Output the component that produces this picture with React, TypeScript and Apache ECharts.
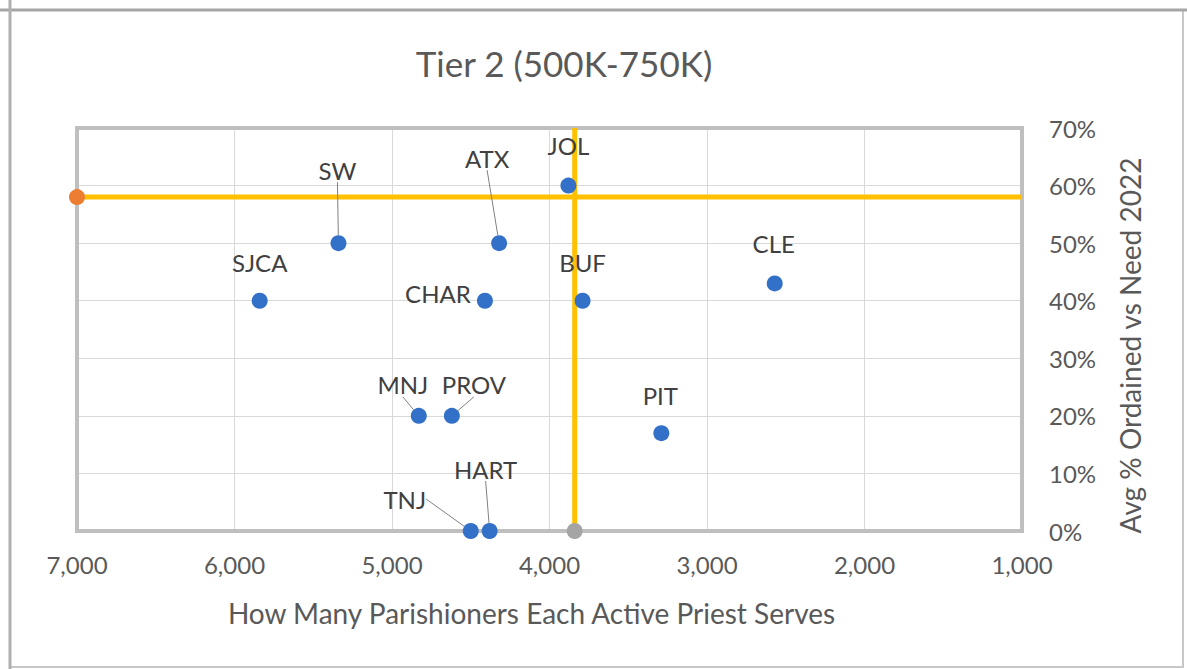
import React, { useEffect, useRef } from "react";
import * as echarts from "echarts";

const names = ["SJCA", "SW", "ATX", "JOL", "CHAR", "BUF", "CLE", "MNJ", "PROV", "PIT", "TNJ", "HART"];
const parishionersPerPriest = [5840, 5340, 4320, 3880, 4410, 3790, 2570, 4830, 4620, 3290, 4500, 4380];
const pctOrdained = [40, 50, 50, 60, 40, 40, 43, 20, 20, 17, 0, 0];
const avgParishioners = 3840;
const avgOrdained = 58;
const xMin = 1000;
const xMax = 7000;
const yMin = 0;
const yMax = 70;

// label placement (styling): offset from point centre to label centre, and leader-line flag
const labelOffsets: Record<string, [number, number, boolean]> = {
  SJCA: [0, -38, false],
  SW: [-1, -73, true],
  ATX: [-12, -85, true],
  JOL: [0, -40, false],
  CHAR: [-47, -7, false],
  BUF: [0, -38, false],
  CLE: [-1, -40, false],
  MNJ: [-16, -31, true],
  PROV: [22, -31, true],
  PIT: [-1, -38, false],
  TNJ: [-66, -32, true],
  HART: [-4, -62, true],
};

const FONT = "Lato, 'Noto Sans', sans-serif";

export default function App() {
  const ref = useRef<HTMLDivElement>(null);
  useEffect(() => {
    if (!ref.current) return;
    const chart = echarts.init(ref.current, null, { renderer: "svg" });
    const points = names.map((n, i) => ({
      name: n,
      value: [parishionersPerPriest[i], pctOrdained[i]],
      labelLine: { show: labelOffsets[n][2] },
    }));
    chart.setOption({
      animation: false,
      backgroundColor: "#ffffff",
      title: {
        text: "Tier 2 (500K-750K)",
        left: 559,
        top: 40,
        textAlign: "center",
        textStyle: { fontFamily: FONT, fontSize: 35, fontWeight: "normal", color: "#595959" },
      },
      graphic: [
        {
          type: "rect",
          shape: { x: 10, y: 10, width: 1173, height: 657 },
          style: { fill: "none", stroke: "#c8c8c8", lineWidth: 2 },
          silent: true,
        },
        {
          type: "line",
          shape: { x1: 0, y1: 10, x2: 1187, y2: 10 },
          style: { stroke: "#a6a6a6", lineWidth: 3 },
          silent: true,
        },
        {
          type: "line",
          shape: { x1: 10, y1: 0, x2: 10, y2: 669 },
          style: { stroke: "#b0b0b0", lineWidth: 3 },
          silent: true,
        },
      ],
      grid: {
        left: 77,
        right: 165,
        top: 128,
        bottom: 138,
        show: true,
        borderColor: "#bfbfbf",
        borderWidth: 4,
        z: 3,
      },
      xAxis: {
        type: "value",
        inverse: true,
        min: xMin,
        max: xMax,
        interval: 1000,
        name: "How Many Parishioners Each Active Priest Serves",
        nameLocation: "middle",
        nameGap: 68,
        nameTextStyle: { fontFamily: FONT, fontSize: 28, color: "#595959", padding: [0, 36, 0, 0] },
        axisLine: { show: false },
        axisTick: { show: false },
        axisLabel: {
          margin: 21,
          fontFamily: FONT,
          fontSize: 24,
          color: "#595959",
          formatter: (v: number) => v.toLocaleString("en-US"),
        },
        splitLine: { show: true, lineStyle: { color: "#d9d9d9", width: 1 } },
      },
      yAxis: {
        type: "value",
        position: "right",
        min: yMin,
        max: yMax,
        interval: 10,
        name: "Avg % Ordained vs Need 2022",
        nameLocation: "middle",
        nameRotate: 90,
        nameGap: 94,
        nameTextStyle: { fontFamily: FONT, fontSize: 28, color: "#595959", padding: [0, 32, 0, 0] },
        axisLine: { show: false },
        axisTick: { show: false },
        axisLabel: {
          margin: 27,
          fontFamily: FONT,
          fontSize: 24,
          color: "#595959",
          formatter: "{value}%",
        },
        splitLine: { show: true, lineStyle: { color: "#d9d9d9", width: 1 } },
      },
      series: [
        {
          type: "line",
          data: [
            [xMax, avgOrdained],
            [xMin, avgOrdained],
          ],
          symbol: "none",
          lineStyle: { color: "#FFC000", width: 5 },
          z: 4,
          silent: true,
        },
        {
          type: "line",
          data: [
            [avgParishioners, yMin],
            [avgParishioners, yMax],
          ],
          symbol: "none",
          lineStyle: { color: "#FFC000", width: 5 },
          z: 4,
          silent: true,
        },
        {
          type: "scatter",
          data: [[xMax, avgOrdained]],
          symbolSize: 16,
          itemStyle: { color: "#ED7D31", opacity: 1 },
          z: 6,
        },
        {
          type: "scatter",
          data: [[avgParishioners, yMin]],
          symbolSize: 16,
          itemStyle: { color: "#A5A5A5", opacity: 1 },
          z: 6,
        },
        {
          type: "scatter",
          data: points,
          symbolSize: 16,
          itemStyle: { color: "#3370C8", opacity: 1 },
          z: 6,
          label: {
            show: true,
            position: "inside",
            formatter: "{b}",
            fontFamily: FONT,
            fontSize: 24,
            color: "#404040",
          },
          labelLine: {
            show: false,
            lineStyle: { color: "#808080", width: 1 },
          },
          labelLayout: (params: any) => {
            const o = labelOffsets[names[params.dataIndex]];
            return { dx: o[0], dy: o[1] };
          },
        },
      ],
    });
    return () => chart.dispose();
  }, []);
  return (
    <div
      ref={ref}
      style={{ position: "fixed", left: 0, top: 0, width: 1187, height: 669 }}
    />
  );
}
